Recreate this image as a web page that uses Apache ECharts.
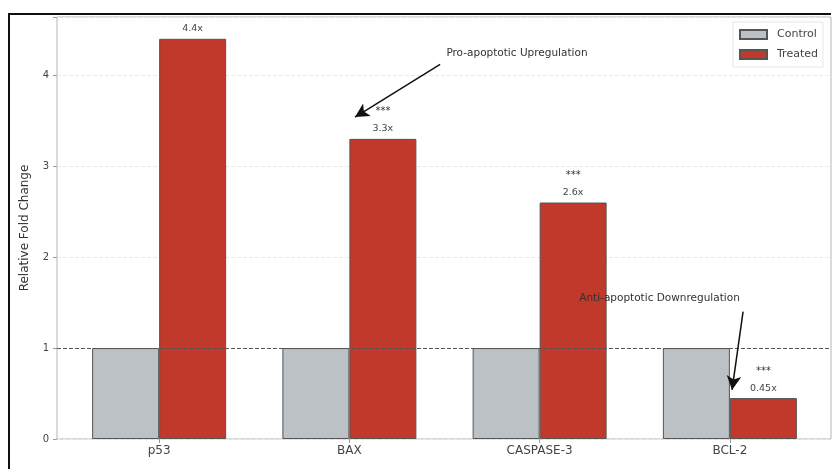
<!DOCTYPE html>
<html>
<head>
<meta charset="utf-8">
<script src="https://cdn.jsdelivr.net/npm/echarts@6/dist/echarts.min.js"></script>
<style>
  html, body { margin: 0; padding: 0; background: #fff; }
  #chart { width: 833px; height: 469px; }
</style>
</head>
<body>
<div id="chart"></div>
<script>
// data
const genes = ['p53', 'BAX', 'CASPASE-3', 'BCL-2']
const control = [1, 1, 1, 1]
const treated = [4.4, 3.3, 2.6, 0.45]
const sig = ['', '***', '***', '***']
const yTicks = [0, 1, 2, 3, 4]

// annotations (value coords: x = category index, y = fold change)
const noteText = ['Pro-apoptotic Upregulation', 'Anti-apoptotic Downregulation']
const notePos = [[1.881, 4.24], [2.63, 1.55]]
const arrowFrom = [[1.477, 4.12], [3.069, 1.40]]
const arrowTo = [[1.03, 3.54], [3.011, 0.54]]

const Y_MAX = 4.64
const chart = echarts.init(document.getElementById('chart'), null, { renderer: 'canvas' })

chart.setOption({
  backgroundColor: '#fff',
  animation: false,
  textStyle: { fontFamily: 'DejaVu Sans' },
  graphic: [
    // outer figure frame
    { type: 'polyline', shape: { points: [[9, 470], [9, 14], [831, 14]] }, style: { stroke: '#111', lineWidth: 2, fill: null }, silent: true },
  ],
  legend: {
    orient: 'vertical',
    left: 733,
    top: 22,
    padding: [7, 5, 7, 6],
    icon: 'rect',
    itemWidth: 27,
    itemHeight: 9,
    itemGap: 9,
    backgroundColor: 'rgba(255,255,255,0.85)',
    borderColor: '#e6e6e6',
    borderWidth: 1,
    textStyle: { fontSize: 11, color: '#444', padding: [0, 0, 0, 5] },
    data: ['Control', 'Treated'],
  },
  grid: [
    // bars
    { left: 64, right: 8, top: 17, bottom: 30 },
    // frame / axes spanning the full plot width
    { left: 57, right: 2, top: 17, bottom: 30, show: true, borderColor: '#b5b5b5', borderWidth: 1, backgroundColor: 'transparent' },
  ],
  xAxis: [
    {
      type: 'category',
      gridIndex: 0,
      data: genes,
      axisLine: { show: false },
      axisTick: { show: true, alignWithLabel: true, length: 4, lineStyle: { color: '#999' } },
      axisLabel: { fontSize: 12, color: '#444', margin: 6 },
    },
    {
      type: 'value',
      gridIndex: 1,
      min: -0.536,
      max: 3.531,
      show: false,
    },
  ],
  yAxis: [
    { type: 'value', gridIndex: 0, min: 0, max: Y_MAX, show: false },
    {
      type: 'value',
      gridIndex: 1,
      min: 0,
      max: Y_MAX,
      interval: 1,
      name: 'Relative Fold Change',
      nameLocation: 'middle',
      nameGap: 26,
      nameTextStyle: { fontSize: 12, color: '#333' },
      axisLine: { show: false, onZero: false },
      axisTick: { show: true, length: 4, lineStyle: { color: '#999' } },
      axisLabel: {
        fontSize: 10,
        color: '#444',
        margin: 8,
        formatter: (v) => (yTicks.includes(v) ? String(v) : ''),
      },
      splitLine: { show: true, lineStyle: { color: '#e9e9e9', type: 'dashed' } },
    },
  ],
  series: [
    {
      name: 'Control',
      type: 'bar',
      xAxisIndex: 0,
      yAxisIndex: 0,
      data: control,
      barWidth: 67,
      barGap: '0%',
      itemStyle: { color: '#bcc1c6', borderColor: '#555', borderWidth: 1 },
    },
    {
      name: 'Treated',
      type: 'bar',
      xAxisIndex: 0,
      yAxisIndex: 0,
      data: treated,
      barWidth: 67,
      barGap: '0%',
      itemStyle: { color: '#c0392b', borderColor: '#555', borderWidth: 1 },
      label: {
        show: true,
        position: 'top',
        distance: 4,
        formatter: (p) => {
          const v = '{v|' + p.value + 'x}'
          return sig[p.dataIndex] ? '{s|' + sig[p.dataIndex] + '}\n' + v : v
        },
        rich: {
          s: { fontSize: 10, color: '#333', lineHeight: 22 },
          v: { fontSize: 9.5, color: '#444', lineHeight: 12 },
        },
      },
    },
    {
      // reference line + annotations on the full-width frame grid
      type: 'line',
      xAxisIndex: 1,
      yAxisIndex: 1,
      data: [],
      z: 5,
      silent: true,
      markLine: {
        silent: true,
        animation: false,
        symbol: ['none', 'none'],
        data: [
          { yAxis: 1, lineStyle: { color: '#555', type: 'dashed', width: 1 } },
          ...arrowFrom.map((f, i) => [
            { coord: f },
            { coord: arrowTo[i], symbol: 'arrow', symbolSize: [11, 14] },
          ]),
        ],
        lineStyle: { color: '#111', type: 'solid', width: 1.5 },
        label: { show: false },
      },
      markPoint: {
        silent: true,
        symbolSize: 0,
        data: noteText.map((t, i) => ({ name: t, coord: notePos[i] })),
        label: { show: true, position: 'inside', formatter: '{b}', fontSize: 10.5, color: '#333' },
      },
    },
  ],
})
</script>
</body>
</html>
